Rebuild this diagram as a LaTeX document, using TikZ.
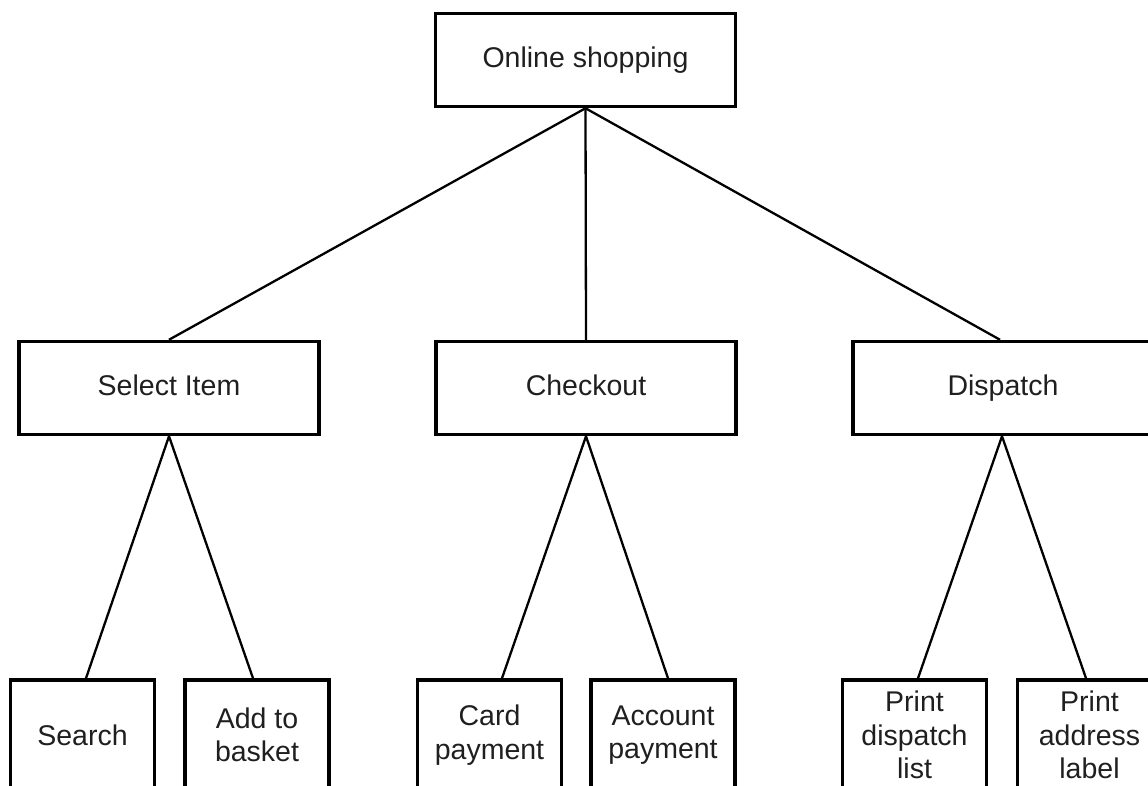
\documentclass[tikz,border=0pt]{standalone}
\usepackage{fontspec}
\setmainfont{Liberation Sans}
\begin{document}
\begin{tikzpicture}[x=1pt,y=-1pt,
  base/.style={draw=black,line width=3.5pt,inner sep=0pt,
    font=\fontsize{28.5}{33.5}\selectfont,align=center,text=black!88},
  box/.style={base,minimum width=300pt,minimum height=93pt,text height=20pt,text depth=6pt},
  leaf/.style={base,minimum width=144pt,minimum height=110pt},
  link/.style={line width=2.3pt,black}]
\useasboundingbox (0,0) rectangle (1148,785);
\clip (0,0) rectangle (1148,785);
\node[box] (root) at (585.5,60) {Online shopping};
\node[box] (sel) at (169,388) {Select Item};
\node[box] (chk) at (586,388) {Checkout};
\node[box] (dis) at (1003,388) {Dispatch};
\node[leaf] (sea) at (82.5,735) {Search};
\node[leaf] (add) at (257,735) {Add to\\basket};
\node[leaf] (card) at (489.5,735) {Card\\payment};
\node[leaf] (acc) at (663,735) {Account\\payment};
\node[leaf] (pdl) at (914.5,735) {Print\\dispatch\\list};
\node[leaf] (pal) at (1089.5,735) {Print\\address\\label};
\draw[link] (root.south) -- (sel.north);
\draw[link] (root.south) -- (chk.north);
\draw[link] (root.south) -- ([xshift=-3pt]dis.north);
\draw[link] (sel.south) -- ([xshift=3.5pt]sea.north);
\draw[link] (sel.south) -- ([xshift=-4pt]add.north);
\draw[link] (chk.south) -- ([xshift=12.5pt]card.north);
\draw[link] (chk.south) -- ([xshift=5pt]acc.north);
\draw[link] ([xshift=-1pt]dis.south) -- ([xshift=3.5pt]pdl.north);
\draw[link] ([xshift=-1pt]dis.south) -- ([xshift=-3.5pt]pal.north);
\end{tikzpicture}
\end{document}
